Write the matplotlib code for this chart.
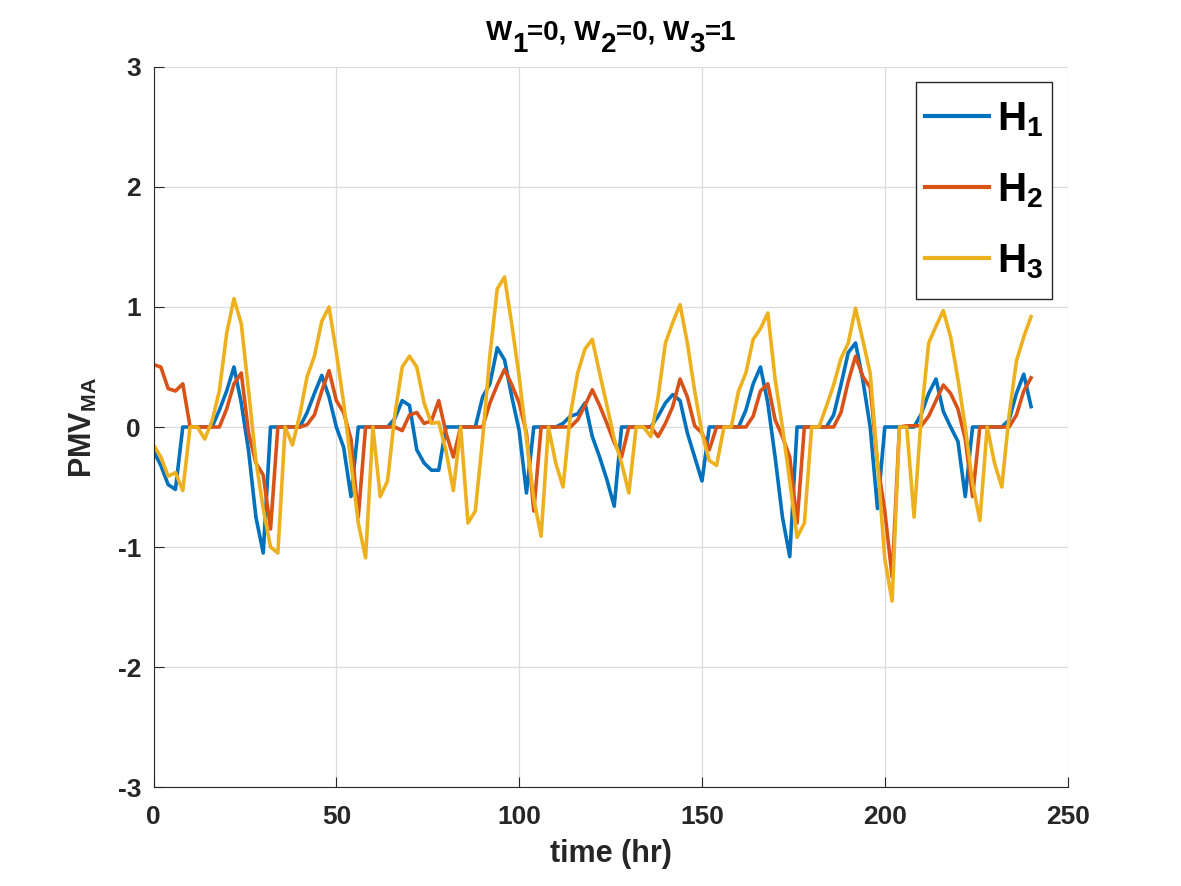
import numpy as np
import matplotlib.pyplot as plt

# hours, sampled every 2 h
t = np.arange(0, 241, 2)

# PMV_MA for each house
h1 = [-0.2, -0.32, -0.48, -0.52, 0, 0, 0, 0, 0, 0.14, 0.3, 0.5, 0.2, -0.2, -0.75, -1.05,
      0, 0, 0, 0, 0, 0.12, 0.28, 0.43, 0.25, 0.0, -0.17, -0.58, 0, 0, 0, 0,
      0, 0.07, 0.22, 0.18, -0.19, -0.3, -0.36, -0.36, 0, 0, 0, 0, 0, 0.25,
      0.36, 0.66, 0.56, 0.25, -0.03, -0.55, 0, 0, 0, 0, 0.03, 0.09, 0.11, 0.2,
      -0.08, -0.25, -0.44, -0.66, 0, 0, 0, 0, 0, 0.09, 0.2, 0.27, 0.22, -0.05,
      -0.25, -0.45, 0, 0, 0, 0, 0, 0.14, 0.36, 0.5, 0.2, -0.25, -0.75, -1.08,
      0, 0, 0, 0, 0, 0.1, 0.35, 0.62, 0.7, 0.39, 0.0, -0.68, 0, 0, 0, 0,
      0, 0.11, 0.28, 0.4, 0.13, 0.0, -0.12, -0.58, 0, 0, 0, 0, 0, 0.06,
      0.28, 0.44, 0.17]
h2 = [0.52, 0.5, 0.32, 0.3, 0.36, 0, 0, 0, 0, 0, 0.15, 0.36, 0.45, -0.05, -0.3, -0.4,
      -0.85, 0, 0, 0, 0, 0.02, 0.1, 0.3, 0.47, 0.22, 0.12, -0.1, -0.75, 0, 0, 0,
      0, 0, -0.03, 0.1, 0.12, 0.03, 0.05, 0.22, -0.05, -0.25, 0, 0, 0, 0, 0.2,
      0.35, 0.48, 0.35, 0.2, -0.05, -0.7, 0, 0, 0, 0, 0, 0.06, 0.18, 0.31,
      0.18, 0.03, -0.13, -0.25, 0, 0, 0, 0, -0.08, 0.03, 0.17, 0.4, 0.25, 0.01,
      -0.05, -0.19, 0, 0, 0, 0, 0, 0.09, 0.3, 0.36, 0.06, -0.08, -0.25, -0.8,
      0, 0, 0, 0, 0, 0.12, 0.38, 0.59, 0.42, 0.33, -0.3, -0.7, -1.25, 0,
      0.01, 0.01, 0.01, 0.09, 0.22, 0.35, 0.28, 0.15, -0.1, -0.58, 0, 0, 0, 0,
      0, 0.1, 0.3, 0.41]
h3 = [-0.15, -0.25, -0.41, -0.38, -0.53, 0, 0, -0.1, 0.05, 0.3, 0.78, 1.07, 0.86, 0.3,
      -0.28, -0.68, -1.0, -1.05, 0, -0.15, 0.1, 0.42, 0.59, 0.88, 1.0, 0.62, 0.2,
      -0.3, -0.8, -1.09, 0, -0.58, -0.45, 0.1, 0.5, 0.59, 0.5, 0.2, 0.03, 0.04,
      -0.2, -0.53, 0, -0.8, -0.7, -0.1, 0.6, 1.15, 1.25, 0.85, 0.42, -0.1,
      -0.6, -0.91, 0, -0.3, -0.5, 0.1, 0.45, 0.65, 0.73, 0.45, 0.18, -0.1, -0.3,
      -0.55, 0, 0, -0.08, 0.25, 0.7, 0.87, 1.02, 0.7, 0.3, -0.05, -0.28, -0.32,
      0, 0, 0.3, 0.45, 0.73, 0.82, 0.95, 0.4, 0.0, -0.45, -0.92, -0.8, 0, 0,
      0.17, 0.35, 0.57, 0.7, 0.99, 0.72, 0.45, -0.3, -1.1, -1.45, 0, 0,
      -0.75, 0.1, 0.7, 0.84, 0.97, 0.75, 0.4, 0.0, -0.47, -0.78, 0, -0.3,
      -0.5, 0.1, 0.55, 0.75, 0.92]

colors = ["#0072BD", "#D95319", "#EDB120"]
labels = ["H$_1$", "H$_2$", "H$_3$"]
# title pieces: (text, is_subscript)
title_parts = [("W", 0), ("1", 1), ("=0, W", 0), ("2", 1), ("=0, W", 0), ("3", 1), ("=1", 0)]

plt.rcParams["font.family"] = "Liberation Sans"
plt.rcParams["font.weight"] = "bold"
plt.rcParams["axes.unicode_minus"] = False
plt.rcParams["mathtext.fontset"] = "custom"
plt.rcParams["mathtext.rm"] = "Liberation Sans:bold"
plt.rcParams["mathtext.bf"] = "Liberation Sans:bold"
plt.rcParams["mathtext.it"] = "Liberation Sans:bold"

W, H = 1181, 886
fig = plt.figure(figsize=(W / 100, H / 100), dpi=100)
ax = fig.add_axes([0.13, 0.1117, 0.774, 0.8127])

for y, c, lab in zip([h1, h2, h3], colors, labels):
    ax.plot(t, y, color=c, lw=2.6, label=lab)

ax.set_xlim(0, 250)
ax.set_ylim(-3, 3)
ax.set_xticks([0, 50, 100, 150, 200, 250])
ax.set_yticks([-3, -2, -1, 0, 1, 2, 3])
ax.grid(True, color="#dcdcdc", lw=0.9)
ax.set_axisbelow(True)
for s in ["top", "right"]:
    ax.spines[s].set_visible(False)
for s in ["left", "bottom"]:
    ax.spines[s].set_color("#262626")
ax.tick_params(direction="in", length=7, labelsize=19, colors="#262626")
ax.tick_params(axis="x", pad=13)
ax.tick_params(axis="y", pad=9)
for lbl in ax.get_xticklabels() + ax.get_yticklabels():
    lbl.set_fontweight("bold")

ax.set_xlabel("time (hr)", fontsize=22, fontweight="bold", color="#262626", labelpad=7)
ax.set_ylabel("PMV$_{MA}$", fontsize=22, fontweight="bold", color="#262626", labelpad=13)

# title with full size subscripts, laid out piece by piece
renderer = fig.canvas.get_renderer()
tsize = 20
widths = []
for s, sub in title_parts:
    tmp = fig.text(0, 0, s, fontsize=tsize, fontweight="bold")
    widths.append(tmp.get_window_extent(renderer).width)
    tmp.remove()
x0 = (154 + 1068) / 2 - sum(widths) / 2
base = 40
for (s, sub), w in zip(title_parts, widths):
    fig.text(x0 / W, 1 - (base + 12 * sub) / H, s, fontsize=tsize, fontweight="bold",
             va="baseline", color="black")
    x0 += w

# legend: frame drawn as its own box, entries centred in it
box = (916, 82, 1052, 299)
frame = plt.Rectangle((box[0] / W, 1 - box[3] / H), (box[2] - box[0]) / W,
                      (box[3] - box[1]) / H, transform=fig.transFigure,
                      facecolor="white", edgecolor="#262626", lw=1.0,
                      zorder=5, clip_on=False)
ax.add_patch(frame)
leg = ax.legend(loc="center", bbox_to_anchor=((box[0] + box[2]) / 2 / W,
                                              1 - (box[1] + box[3]) / 2 / H),
                bbox_transform=fig.transFigure, frameon=False, fontsize=29,
                handlelength=1.6, handletextpad=0.2, labelspacing=0.8,
                borderpad=0.0)
leg.set_zorder(6)
for line in leg.get_lines():
    line.set_linewidth(3)

fig.savefig("out.png", dpi=100)
